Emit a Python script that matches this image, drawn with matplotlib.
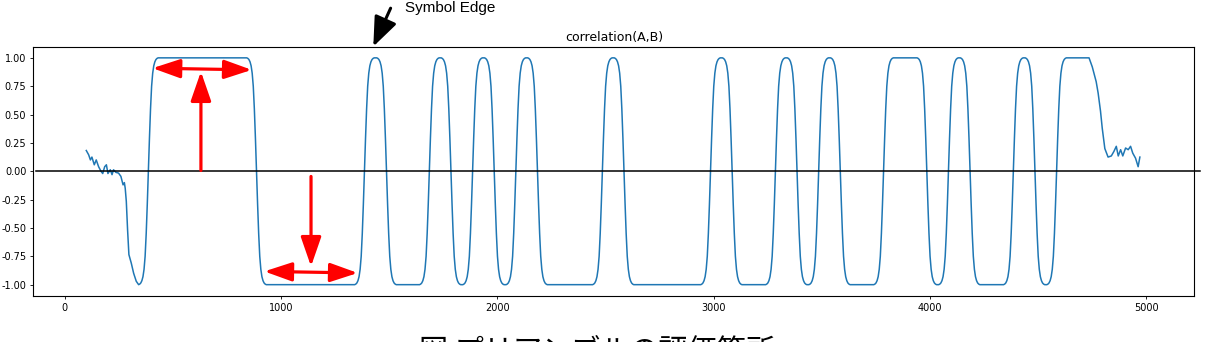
import numpy as np
import matplotlib
matplotlib.use("Agg")
import matplotlib.pyplot as plt

# ---- data ----
start_x = [99, 110, 118, 125, 136, 145, 156, 167, 175, 184, 192, 199, 210, 218,
           225, 236, 248, 259, 269, 275, 279, 284, 290, 296, 307, 318, 330]
start_y = [0.183, 0.145, 0.10, 0.125, 0.057, 0.10, 0.04, 0.0, -0.02, 0.04, 0.057,
           -0.02, 0.013, -0.03, 0.013, -0.01, -0.016, -0.045, -0.12, -0.10, -0.15,
           -0.265, -0.52, -0.735, -0.81, -0.90, -0.97]

# symbol edges (zero crossings) and their direction (+1 rising, -1 falling)
edge_x = [386, 886, 1385, 1487, 1685, 1785, 1885, 1985, 2085, 2185, 2485, 2585,
          2985, 3085, 3285, 3385, 3485, 3585, 3785, 3985, 4085, 4185, 4385, 4485, 4585]
edge_dir = [1, -1, 1, -1, 1, -1, 1, -1, 1, -1, 1, -1,
            1, -1, 1, -1, 1, -1, 1, -1, 1, -1, 1, -1, 1]

# shape of one rising edge around its crossing
edge_offset = [-45, -40, -35, -30, -25, -20, -15, -10, -5, 0, 5, 10, 15, 20, 25, 30, 35, 40, 45]
edge_shape = [-1.0, -0.995, -0.985, -0.965, -0.93, -0.865, -0.75, -0.55, -0.29, 0.0,
              0.29, 0.55, 0.75, 0.865, 0.93, 0.965, 0.985, 0.995, 1.0]

end_x = [4735, 4750, 4762, 4768, 4777, 4788, 4796, 4808, 4823, 4838, 4850, 4861,
         4870, 4881, 4891, 4904, 4916, 4927, 4937, 4950, 4962, 4970]
end_y = [1.0, 0.92, 0.835, 0.79, 0.69, 0.53, 0.38, 0.20, 0.125, 0.135, 0.175, 0.22,
         0.135, 0.19, 0.135, 0.205, 0.19, 0.22, 0.16, 0.115, 0.04, 0.125]

x_ticks = [0, 1000, 2000, 3000, 4000, 5000]
y_ticks = [-1.00, -0.75, -0.50, -0.25, 0.00, 0.25, 0.50, 0.75, 1.00]

title = "correlation(A,B)"
annot_text = "Symbol Edge"
caption = "図 プリアンブルの評価箇所"

# ---- build the curve vertices ----
xs = list(start_x)
ys = list(start_y)
for c, d in zip(edge_x, edge_dir):
    xs += [c + o for o in edge_offset]
    ys += [d * v for v in edge_shape]
xs += end_x
ys += end_y

fig = plt.figure(figsize=(12.24, 3.42), dpi=100)
ax = fig.add_axes([0.0272, 0.1345, 0.9486, 0.7295])
ax.plot(xs, ys, color="#1f77b4", linewidth=1.1)
ax.set_xlim(-146, 5222)
ax.set_ylim(-1.1, 1.1)
ax.set_xticks(x_ticks)
ax.set_yticks(y_ticks)
ax.set_yticklabels([f"{v:.2f}" for v in y_ticks])
ax.tick_params(labelsize=7, length=2.5, width=0.6, pad=2.5)
for s in ax.spines.values():
    s.set_linewidth(0.8)
ax.set_title(title, fontsize=9, pad=4)

# horizontal zero line extending beyond the axes
ax.plot([-134, 5250], [0, 0], color="black", linewidth=1.1, clip_on=False, zorder=3)

red = "#ff0000"
def arrow(x0, y0, x1, y1, style):
    ax.annotate("", xy=(x1, y1), xytext=(x0, y0),
                arrowprops=dict(arrowstyle=style, color=red, lw=2.3,
                                mutation_scale=24, shrinkA=0, shrinkB=0),
                annotation_clip=False, zorder=4)

arrow(405, 0.909, 864, 0.894, "<|-|>,head_length=0.7,head_width=0.24")
arrow(629, 0.007, 629, 0.879, "-|>,head_length=0.75,head_width=0.26")
arrow(1138, -0.046, 1138, -0.839, "-|>,head_length=0.75,head_width=0.26")
arrow(922, -0.883, 1354, -0.897, "<|-|>,head_length=0.7,head_width=0.24")

ax.annotate("", xy=(1426, 1.10), xytext=(1506, 1.438),
            arrowprops=dict(arrowstyle="-|>,head_length=0.75,head_width=0.3",
                            color="black", lw=2.2, mutation_scale=24,
                            shrinkA=0, shrinkB=0),
            annotation_clip=False)
fig.text(405 / 1224, 1 - 1 / 342, annot_text, fontsize=11,
         family=["Liberation Sans", "DejaVu Sans"], ha="left", va="top")

fig.text(0.4875, 1 - 337 / 342, caption, fontsize=21,
         family=["Noto Sans CJK JP", "DejaVu Sans"], ha="center", va="top")

fig.savefig("out.png", dpi=100)
